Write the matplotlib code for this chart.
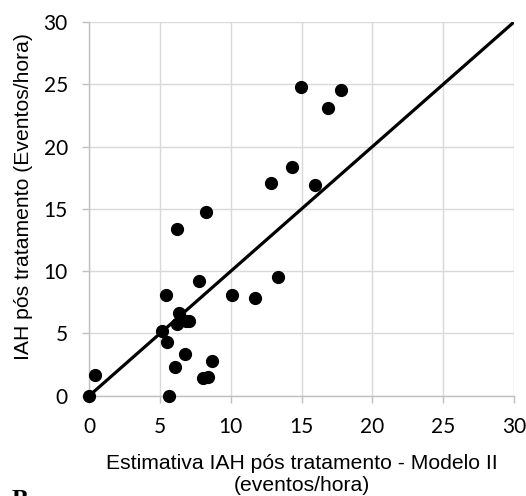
import matplotlib
matplotlib.use("Agg")
import matplotlib.pyplot as plt

# --------------------------------------------------------
#  Data
# --------------------------------------------------------
estimativa = [0.0, 0.38, 14.95, 17.78, 16.86, 14.32, 12.81, 15.94, 8.24, 6.17,
              13.33, 7.77, 5.42, 10.08, 11.68, 6.36, 6.22, 6.83, 7.06, 5.13,
              5.51, 6.73, 8.64, 6.05, 8.05, 8.41, 5.65]
iah_pos    = [0.0, 1.63, 24.81, 24.54, 23.09, 18.33, 17.10, 16.94, 14.74, 13.41,
              9.55, 9.21, 8.11, 8.11, 7.87, 6.61, 5.75, 6.02, 6.02, 5.22,
              4.31, 3.34, 2.76, 2.33, 1.42, 1.53, 0.0]
linha_x    = [0, 30]
linha_y    = [0, 30]
ticks      = [0, 5, 10, 15, 20, 25, 30]

GRID = "#d9d9d9"
AXIS = "#bfbfbf"
W, H = 526, 496

fig = plt.figure(figsize=(W / 100, H / 100), dpi=100)
ax  = fig.add_axes([89.3 / W, 1 - 395.7 / H, (514 - 89.3) / W, (395.7 - 22) / H])

ax.plot(linha_x, linha_y, color="black", lw=2.3, zorder=3, solid_capstyle="butt")
ax.plot(estimativa, iah_pos, "o", color="black", ms=8.5, zorder=4, clip_on=False)

ax.set_xlim(0, 30)
ax.set_ylim(0, 30)
ax.set_xticks(ticks)
ax.set_yticks(ticks)
ax.grid(True, color=GRID, lw=1.0, zorder=0)
ax.set_axisbelow(True)

for side in ("top", "right"):
    ax.spines[side].set_visible(False)
for side in ("left", "bottom"):
    ax.spines[side].set_color(AXIS)
    ax.spines[side].set_linewidth(1.0)

ax.tick_params(length=5, width=1.0, color=AXIS, pad=10.5,
               labelsize=15, labelcolor="black")
for lbl in ax.get_xticklabels() + ax.get_yticklabels():
    lbl.set_family("Lato")

# axis titles (placed by hand, like the Excel original)
fig.text(301.5 / W, 1 - 469 / H, "Estimativa IAH pós tratamento - Modelo II",
         ha="center", va="baseline", fontsize=15.2, family="Liberation Sans")
fig.text(301.5 / W, 1 - 491 / H, "(eventos/hora)",
         ha="center", va="baseline", fontsize=15.2, family="Liberation Sans")
fig.text(24 / W, 1 - 197 / H, "IAH pós tratamento (Eventos/hora)",
         ha="center", va="center", rotation=90, fontsize=15.2, family="Liberation Sans")

# panel letter, cut off at the bottom edge in the original
fig.text(12 / W, 1 - 507 / H, "B", ha="left", va="baseline",
         fontsize=18, fontweight="bold", family="Liberation Serif")

fig.savefig("out.png", dpi=100)
